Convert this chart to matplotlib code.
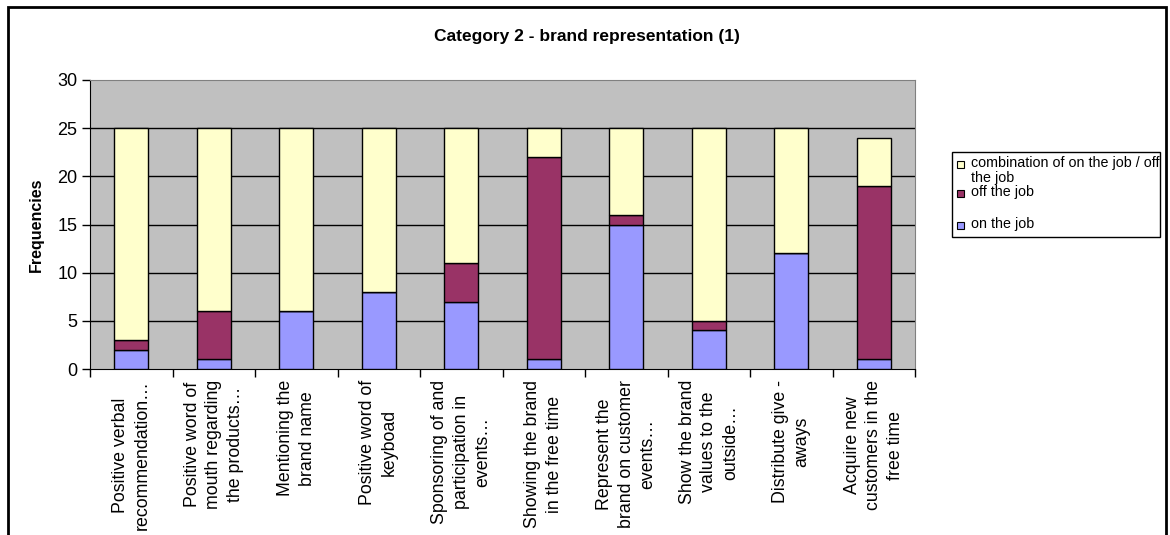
import matplotlib
matplotlib.use("Agg")
import matplotlib.pyplot as plt
import numpy as np
from matplotlib.patches import Rectangle

plt.rcParams["font.family"] = ["Liberation Sans", "DejaVu Sans"]

W, H = 1170, 535

categories = [
    "Positive verbal\nrecommendation…",
    "Positive word of\nmouth regarding\nthe products…",
    "Mentioning the\nbrand name",
    "Positive word of\nkeyboad",
    "Sponsoring of and\nparticipation in\nevents…",
    "Showing the brand\nin the free time",
    "Represent the\nbrand on customer\nevents…",
    "Show the brand\nvalues to the\noutside…",
    "Distribute give -\naways",
    "Acquire new\ncustomers in the\nfree time",
]
on_job = [2, 1, 6, 8, 7, 1, 15, 4, 12, 1]
off_job = [1, 5, 0, 0, 4, 21, 1, 1, 0, 18]
combined = [22, 19, 19, 17, 14, 3, 9, 20, 13, 5]

series_names = ["on the job", "off the job", "combination of on the job / off\nthe job"]
colors = ["#9999FF", "#993366", "#FFFFCC"]


def px(x, y):
    return x / W, 1 - y / H


fig = plt.figure(figsize=(W / 100, H / 100), dpi=100)
left, top = px(90, 80)
right, bottom = px(915, 369)
ax = fig.add_axes([left, bottom, right - left, top - bottom])
ax.set_facecolor("#C0C0C0")

x = np.arange(len(categories))
base = np.zeros(len(categories))
for vals, col in zip([on_job, off_job, combined], colors):
    ax.bar(x, vals, width=0.41, bottom=base, color=col, edgecolor="black", linewidth=1, zorder=3)
    base += np.array(vals)

ax.set_xlim(-0.5, len(categories) - 0.5)
ax.set_ylim(0, 30)
ax.set_yticks(range(0, 31, 5))
ax.tick_params(axis="y", labelsize=13, length=6, direction="out", width=1, pad=3)
for v in range(5, 30, 5):
    ax.axhline(v, color="black", lw=1, zorder=1)

# category ticks sit between bars, labels under each bar
ax.set_xticks(np.arange(-0.5, len(categories), 1))
ax.set_xticklabels([])
ax.tick_params(axis="x", length=6, direction="out", width=1)
for i, lab in enumerate(categories):
    ax.annotate(lab, xy=(i, 0), xycoords=("data", "axes fraction"), xytext=(0, -11),
                textcoords="offset pixels", rotation=90, ha="center", va="top",
                multialignment="center", fontsize=12.8, linespacing=1.36)

for s in ("top", "right"):
    ax.spines[s].set_color("#808080")
for s in ("left", "bottom"):
    ax.spines[s].set_color("black")

ax.set_ylabel("Frequencies", fontsize=11.5, fontweight="bold", labelpad=10)

tx, ty = px(587, 36)
fig.text(tx, ty, "Category 2 - brand representation (1)", ha="center", va="center",
         fontsize=12.5, fontweight="bold")

# outer chart frame
fx0, fy0 = px(8, 7)
fx1, _ = px(1166, 0)
fig.add_artist(Rectangle((fx0, -0.1), fx1 - fx0, fy0 + 0.1, transform=fig.transFigure,
                         fill=False, edgecolor="black", lw=2))

# legend box
lx0, ly0 = px(952, 237)
lx1, ly1 = px(1160, 152)
fig.add_artist(Rectangle((lx0, ly0), lx1 - lx0, ly1 - ly0, transform=fig.transFigure,
                         facecolor="white", edgecolor="black", lw=1))
entries = [(series_names[2], colors[2], 164), (series_names[1], colors[1], 193),
           (series_names[0], colors[0], 225)]
for name, col, yy in entries:
    sx, sy = px(957, yy + 4)
    fig.add_artist(Rectangle((sx, sy), 7 / W, 7 / H, transform=fig.transFigure,
                             facecolor=col, edgecolor="black", lw=0.8))
    tx, ty = px(971, yy - 8)
    fig.text(tx, ty, name, ha="left", va="top", fontsize=10.3, linespacing=1.1)

fig.savefig("out.png", dpi=100)
